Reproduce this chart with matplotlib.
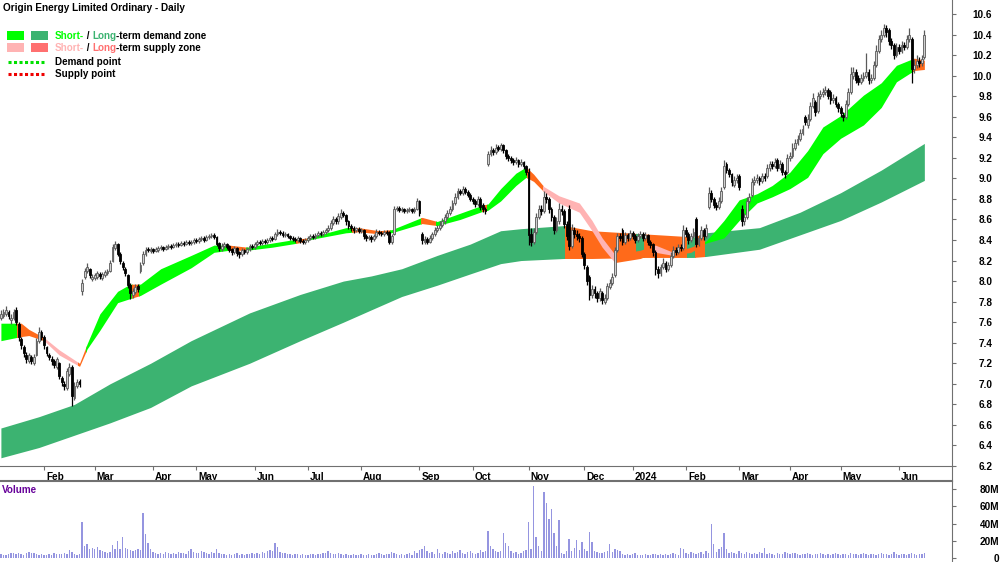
import numpy as np
import matplotlib.pyplot as plt
from matplotlib.patches import Rectangle
from matplotlib.transforms import ScaledTranslation

plt.rcParams['font.family'] = ['Liberation Sans', 'DejaVu Sans']

# daily candles, Origin Energy, 6 Jan 2023 - 18 Jun 2024 (trading days)
opens = [7.64, 7.66, 7.68, 7.70, 7.62, 7.64, 7.72, 7.58, 7.44, 7.36,
         7.28, 7.22, 7.26, 7.20, 7.28, 7.42, 7.50, 7.46, 7.36, 7.28,
         7.24, 7.22, 7.16, 7.20, 7.06, 7.00, 6.96, 7.10, 7.16, 6.86,
         6.98, 7.03, 7.90, 8.04, 8.10, 8.12, 8.02, 8.03, 8.04, 8.07,
         8.03, 8.06, 8.08, 8.10, 8.20, 8.32, 8.36, 8.26, 8.18, 8.12,
         8.06, 7.96, 7.86, 7.89, 7.95, 8.10, 8.18, 8.26, 8.31, 8.29,
         8.31, 8.29, 8.30, 8.32, 8.33, 8.31, 8.33, 8.34, 8.33, 8.35,
         8.36, 8.35, 8.37, 8.36, 8.38, 8.37, 8.38, 8.40, 8.39, 8.41,
         8.42, 8.40, 8.43, 8.44, 8.45, 8.43, 8.37, 8.31, 8.34, 8.36,
         8.34, 8.31, 8.28, 8.32, 8.28, 8.26, 8.30, 8.28, 8.31, 8.34,
         8.33, 8.36, 8.38, 8.37, 8.39, 8.38, 8.40, 8.42, 8.41, 8.46,
         8.48, 8.47, 8.45, 8.46, 8.44, 8.42, 8.41, 8.40, 8.42, 8.39,
         8.38, 8.40, 8.42, 8.44, 8.43, 8.45, 8.47, 8.46, 8.48, 8.50,
         8.52, 8.57, 8.60, 8.58, 8.62, 8.66, 8.64, 8.58, 8.54, 8.52,
         8.50, 8.51, 8.49, 8.50, 8.44, 8.42, 8.43, 8.41, 8.44, 8.48,
         8.47, 8.46, 8.48, 8.48, 8.38, 8.46, 8.70, 8.71, 8.69, 8.70,
         8.68, 8.69, 8.70, 8.68, 8.70, 8.78, 8.46, 8.38, 8.41, 8.38,
         8.42, 8.46, 8.50, 8.52, 8.55, 8.58, 8.62, 8.66, 8.70, 8.76,
         8.82, 8.88, 8.86, 8.90, 8.87, 8.84, 8.80, 8.78, 8.75, 8.80,
         8.74, 8.70, 9.14, 9.24, 9.28, 9.26, 9.30, 9.29, 9.32, 9.28,
         9.22, 9.20, 9.18, 9.16, 9.18, 9.14, 9.16, 9.12, 9.06, 8.46,
         8.38, 8.48, 8.62, 8.70, 8.68, 8.82, 8.80, 8.70, 8.62, 8.50,
         8.58, 8.70, 8.68, 8.56, 8.70, 8.34, 8.50, 8.46, 8.44, 8.42,
         8.26, 8.14, 8.04, 7.86, 7.92, 7.88, 7.84, 7.88, 7.80, 7.84,
         7.94, 7.98, 8.06, 8.30, 8.44, 8.50, 8.38, 8.45, 8.42, 8.47,
         8.44, 8.40, 8.44, 8.46, 8.42, 8.45, 8.38, 8.36, 8.28, 8.12,
         8.08, 8.14, 8.18, 8.12, 8.16, 8.24, 8.30, 8.28, 8.33, 8.32,
         8.50, 8.46, 8.40, 8.44, 8.60, 8.36, 8.42, 8.50, 8.44, 8.72,
         8.86, 8.80, 8.74, 8.72, 8.78, 8.92, 9.14, 9.08, 9.04, 8.94,
         8.98, 9.02, 8.70, 8.58, 8.62, 8.78, 8.84, 8.96, 8.98, 9.00,
         8.97, 9.02, 9.02, 9.10, 9.14, 9.12, 9.18, 9.10, 9.14, 9.06,
         9.06, 9.20, 9.22, 9.30, 9.34, 9.38, 9.44, 9.60, 9.52, 9.58,
         9.70, 9.74, 9.66, 9.80, 9.82, 9.84, 9.86, 9.84, 9.76, 9.78,
         9.72, 9.68, 9.62, 9.60, 9.72, 9.84, 10.00, 10.04, 9.98, 9.94,
         9.98, 10.00, 10.04, 9.96, 9.98, 10.10, 10.24, 10.36, 10.40, 10.46,
         10.44, 10.34, 10.30, 10.20, 10.28, 10.24, 10.30, 10.28, 10.36, 10.36,
         10.06, 10.10, 10.14, 10.12, 10.18]
highs = [7.72, 7.73, 7.76, 7.72, 7.68, 7.73, 7.75, 7.60, 7.46, 7.38,
         7.31, 7.30, 7.28, 7.29, 7.45, 7.55, 7.52, 7.48, 7.37, 7.30,
         7.27, 7.24, 7.26, 7.21, 7.08, 7.03, 7.15, 7.20, 7.18, 7.02,
         7.05, 7.05, 8.02, 8.13, 8.18, 8.13, 8.07, 8.08, 8.10, 8.09,
         8.09, 8.11, 8.12, 8.21, 8.36, 8.39, 8.37, 8.28, 8.20, 8.14,
         8.07, 7.98, 7.93, 7.97, 7.97, 8.19, 8.29, 8.33, 8.33, 8.33,
         8.32, 8.33, 8.34, 8.35, 8.34, 8.35, 8.36, 8.36, 8.37, 8.38,
         8.38, 8.39, 8.39, 8.40, 8.40, 8.40, 8.42, 8.42, 8.43, 8.44,
         8.44, 8.45, 8.46, 8.47, 8.47, 8.44, 8.38, 8.37, 8.38, 8.37,
         8.35, 8.32, 8.34, 8.33, 8.29, 8.32, 8.31, 8.33, 8.36, 8.36,
         8.38, 8.40, 8.40, 8.41, 8.41, 8.42, 8.44, 8.44, 8.48, 8.51,
         8.50, 8.49, 8.48, 8.47, 8.45, 8.44, 8.43, 8.44, 8.43, 8.41,
         8.42, 8.44, 8.46, 8.46, 8.47, 8.49, 8.49, 8.50, 8.52, 8.55,
         8.59, 8.63, 8.62, 8.66, 8.70, 8.68, 8.65, 8.59, 8.56, 8.54,
         8.53, 8.53, 8.52, 8.51, 8.46, 8.45, 8.45, 8.46, 8.51, 8.50,
         8.49, 8.50, 8.50, 8.49, 8.46, 8.73, 8.73, 8.73, 8.72, 8.71,
         8.71, 8.72, 8.71, 8.72, 8.81, 8.79, 8.48, 8.44, 8.43, 8.45,
         8.48, 8.53, 8.55, 8.58, 8.61, 8.65, 8.69, 8.73, 8.79, 8.86,
         8.91, 8.90, 8.93, 8.92, 8.89, 8.86, 8.82, 8.80, 8.83, 8.82,
         8.76, 8.72, 9.27, 9.31, 9.30, 9.33, 9.32, 9.34, 9.33, 9.29,
         9.24, 9.22, 9.20, 9.21, 9.19, 9.19, 9.17, 9.13, 9.10, 8.52,
         8.52, 8.66, 8.74, 8.74, 8.88, 8.86, 8.82, 8.72, 8.64, 8.62,
         8.76, 8.74, 8.70, 8.58, 8.74, 8.56, 8.53, 8.50, 8.47, 8.44,
         8.28, 8.16, 8.06, 7.96, 7.95, 7.90, 7.93, 7.90, 7.87, 7.98,
         8.02, 8.08, 8.33, 8.47, 8.47, 8.52, 8.48, 8.47, 8.50, 8.49,
         8.46, 8.47, 8.49, 8.48, 8.48, 8.46, 8.40, 8.37, 8.30, 8.15,
         8.17, 8.22, 8.20, 8.19, 8.28, 8.34, 8.33, 8.36, 8.36, 8.55,
         8.53, 8.48, 8.47, 8.52, 8.62, 8.45, 8.54, 8.52, 8.56, 8.92,
         8.89, 8.82, 8.77, 8.82, 8.92, 9.18, 9.16, 9.10, 9.05, 9.02,
         9.04, 9.04, 8.74, 8.66, 8.82, 8.86, 9.00, 9.02, 9.04, 9.02,
         9.05, 9.05, 9.14, 9.17, 9.17, 9.20, 9.20, 9.18, 9.16, 9.08,
         9.24, 9.26, 9.34, 9.38, 9.42, 9.48, 9.52, 9.62, 9.63, 9.74,
         9.83, 9.76, 9.84, 9.86, 9.88, 9.90, 9.88, 9.86, 9.82, 9.80,
         9.74, 9.70, 9.65, 9.76, 9.88, 10.08, 10.08, 10.06, 10.01, 10.02,
         10.04, 10.22, 10.06, 10.02, 10.14, 10.30, 10.40, 10.44, 10.50, 10.49,
         10.46, 10.37, 10.32, 10.32, 10.31, 10.34, 10.33, 10.40, 10.46, 10.38,
         10.16, 10.20, 10.18, 10.20, 10.44]
lows = [7.62, 7.64, 7.66, 7.63, 7.58, 7.62, 7.57, 7.42, 7.34, 7.26,
        7.20, 7.20, 7.19, 7.18, 7.27, 7.40, 7.43, 7.34, 7.27, 7.23,
        7.18, 7.15, 7.14, 7.05, 6.98, 6.94, 6.94, 7.08, 6.78, 6.84,
        6.96, 6.97, 7.86, 8.02, 8.08, 8.03, 8.00, 8.01, 8.02, 8.02,
        8.01, 8.04, 8.06, 8.09, 8.19, 8.30, 8.24, 8.17, 8.11, 8.05,
        7.93, 7.83, 7.84, 7.87, 7.89, 8.08, 8.16, 8.24, 8.28, 8.27,
        8.27, 8.28, 8.28, 8.30, 8.29, 8.30, 8.31, 8.31, 8.32, 8.33,
        8.33, 8.34, 8.34, 8.35, 8.35, 8.35, 8.36, 8.37, 8.37, 8.39,
        8.38, 8.39, 8.41, 8.42, 8.41, 8.34, 8.29, 8.29, 8.32, 8.31,
        8.28, 8.25, 8.26, 8.24, 8.22, 8.24, 8.26, 8.26, 8.29, 8.31,
        8.31, 8.34, 8.35, 8.35, 8.36, 8.36, 8.38, 8.39, 8.40, 8.44,
        8.45, 8.43, 8.43, 8.42, 8.40, 8.39, 8.38, 8.38, 8.37, 8.36,
        8.36, 8.38, 8.40, 8.41, 8.41, 8.43, 8.44, 8.44, 8.46, 8.48,
        8.50, 8.55, 8.56, 8.56, 8.60, 8.62, 8.55, 8.51, 8.49, 8.47,
        8.48, 8.47, 8.47, 8.41, 8.39, 8.40, 8.38, 8.39, 8.42, 8.45,
        8.44, 8.44, 8.45, 8.36, 8.36, 8.45, 8.68, 8.67, 8.67, 8.66,
        8.66, 8.67, 8.66, 8.66, 8.69, 8.63, 8.36, 8.36, 8.36, 8.37,
        8.40, 8.44, 8.48, 8.50, 8.53, 8.56, 8.60, 8.64, 8.68, 8.74,
        8.80, 8.84, 8.84, 8.85, 8.82, 8.78, 8.75, 8.72, 8.73, 8.69,
        8.67, 8.65, 9.12, 9.22, 9.23, 9.24, 9.27, 9.27, 9.25, 9.19,
        9.17, 9.15, 9.13, 9.14, 9.11, 9.12, 9.09, 9.03, 8.35, 8.34,
        8.36, 8.46, 8.60, 8.64, 8.66, 8.76, 8.66, 8.58, 8.46, 8.48,
        8.56, 8.64, 8.52, 8.40, 8.30, 8.32, 8.42, 8.40, 8.38, 8.23,
        8.12, 7.96, 7.82, 7.84, 7.84, 7.80, 7.81, 7.78, 7.78, 7.82,
        7.92, 7.96, 8.04, 8.28, 8.39, 8.35, 8.36, 8.39, 8.40, 8.41,
        8.37, 8.38, 8.42, 8.39, 8.40, 8.35, 8.32, 8.24, 8.06, 8.03,
        8.05, 8.12, 8.09, 8.10, 8.14, 8.22, 8.25, 8.26, 8.29, 8.30,
        8.43, 8.36, 8.38, 8.42, 8.33, 8.34, 8.40, 8.40, 8.42, 8.70,
        8.77, 8.71, 8.69, 8.70, 8.76, 8.90, 9.05, 9.01, 8.93, 8.92,
        8.95, 8.89, 8.54, 8.55, 8.60, 8.76, 8.82, 8.94, 8.95, 8.94,
        8.95, 8.97, 9.00, 9.07, 9.09, 9.10, 9.07, 9.08, 9.03, 9.00,
        9.04, 9.17, 9.20, 9.28, 9.32, 9.36, 9.42, 9.52, 9.49, 9.56,
        9.68, 9.61, 9.64, 9.77, 9.79, 9.81, 9.77, 9.72, 9.73, 9.69,
        9.65, 9.60, 9.56, 9.58, 9.70, 9.82, 9.97, 9.93, 9.91, 9.92,
        9.95, 9.98, 9.92, 9.93, 9.96, 10.08, 10.22, 10.33, 10.38, 10.38,
        10.30, 10.26, 10.16, 10.18, 10.21, 10.22, 10.25, 10.26, 10.33, 9.93,
        10.03, 10.07, 10.08, 10.09, 10.16]
closes = [7.68, 7.70, 7.72, 7.66, 7.64, 7.70, 7.60, 7.46, 7.38, 7.30,
          7.24, 7.28, 7.22, 7.26, 7.42, 7.50, 7.46, 7.38, 7.30, 7.26,
          7.22, 7.18, 7.24, 7.08, 7.02, 6.98, 7.12, 7.16, 6.88, 6.98,
          7.02, 7.00, 7.98, 8.10, 8.14, 8.06, 8.04, 8.06, 8.08, 8.05,
          8.07, 8.09, 8.10, 8.18, 8.33, 8.36, 8.26, 8.20, 8.14, 8.08,
          7.96, 7.88, 7.90, 7.94, 7.92, 8.16, 8.26, 8.30, 8.30, 8.31,
          8.29, 8.31, 8.32, 8.33, 8.31, 8.33, 8.34, 8.33, 8.35, 8.36,
          8.35, 8.37, 8.36, 8.38, 8.37, 8.38, 8.40, 8.39, 8.41, 8.42,
          8.40, 8.43, 8.44, 8.45, 8.43, 8.36, 8.32, 8.34, 8.36, 8.33,
          8.30, 8.28, 8.32, 8.27, 8.26, 8.30, 8.28, 8.31, 8.34, 8.33,
          8.36, 8.38, 8.37, 8.39, 8.38, 8.40, 8.42, 8.41, 8.46, 8.48,
          8.47, 8.45, 8.46, 8.44, 8.42, 8.41, 8.40, 8.42, 8.39, 8.38,
          8.40, 8.42, 8.44, 8.43, 8.45, 8.47, 8.46, 8.48, 8.50, 8.52,
          8.57, 8.60, 8.58, 8.63, 8.66, 8.64, 8.58, 8.54, 8.52, 8.50,
          8.51, 8.49, 8.50, 8.44, 8.42, 8.43, 8.41, 8.44, 8.48, 8.47,
          8.46, 8.48, 8.47, 8.38, 8.44, 8.70, 8.71, 8.69, 8.70, 8.68,
          8.69, 8.70, 8.68, 8.70, 8.78, 8.66, 8.40, 8.41, 8.38, 8.42,
          8.46, 8.50, 8.52, 8.55, 8.58, 8.62, 8.66, 8.70, 8.76, 8.82,
          8.88, 8.86, 8.90, 8.87, 8.84, 8.80, 8.78, 8.75, 8.80, 8.72,
          8.70, 8.68, 9.24, 9.28, 9.26, 9.30, 9.29, 9.32, 9.28, 9.22,
          9.20, 9.18, 9.16, 9.18, 9.14, 9.16, 9.12, 9.06, 8.45, 8.38,
          8.48, 8.62, 8.70, 8.68, 8.82, 8.80, 8.70, 8.62, 8.50, 8.58,
          8.70, 8.68, 8.56, 8.44, 8.34, 8.50, 8.46, 8.44, 8.42, 8.26,
          8.16, 8.00, 7.86, 7.92, 7.88, 7.84, 7.90, 7.82, 7.84, 7.95,
          7.98, 8.04, 8.30, 8.44, 8.42, 8.38, 8.45, 8.42, 8.47, 8.44,
          8.40, 8.44, 8.46, 8.42, 8.45, 8.38, 8.35, 8.28, 8.12, 8.08,
          8.14, 8.18, 8.12, 8.16, 8.24, 8.30, 8.28, 8.33, 8.32, 8.50,
          8.46, 8.40, 8.44, 8.48, 8.36, 8.42, 8.50, 8.44, 8.52, 8.86,
          8.80, 8.74, 8.72, 8.78, 8.88, 9.12, 9.08, 9.04, 8.96, 8.98,
          9.00, 8.92, 8.58, 8.62, 8.78, 8.82, 8.96, 8.98, 9.00, 8.97,
          9.02, 9.00, 9.10, 9.14, 9.12, 9.16, 9.10, 9.14, 9.06, 9.04,
          9.20, 9.22, 9.30, 9.34, 9.38, 9.44, 9.48, 9.55, 9.58, 9.70,
          9.78, 9.65, 9.80, 9.82, 9.84, 9.86, 9.80, 9.76, 9.78, 9.72,
          9.68, 9.64, 9.60, 9.72, 9.84, 10.02, 10.04, 9.96, 9.94, 9.98,
          10.00, 10.04, 9.96, 9.98, 10.10, 10.24, 10.36, 10.40, 10.46, 10.42,
          10.34, 10.30, 10.20, 10.28, 10.24, 10.30, 10.28, 10.36, 10.40, 10.06,
          10.10, 10.14, 10.12, 10.16, 10.40]
volumes = [5, 4, 4, 5, 6, 6, 5, 6, 5, 4, 6, 7, 6, 6, 5, 4, 5, 4, 4, 5,
           4, 6, 5, 5, 5, 6, 5, 9, 7, 5, 4, 5,
           42, 14, 16, 11, 12, 10, 13, 9, 8, 7, 6, 7, 15, 10, 20, 11, 24, 12,
           10, 9, 8, 9, 10, 9, 52, 28, 17, 10,
           7, 6, 5, 6, 5, 7, 6, 5, 6, 5, 7, 6, 6, 5, 8, 10, 7, 6, 6, 8,
           7, 6, 5, 7, 6, 10, 6, 5, 5, 4, 5, 4, 5, 6, 4, 5, 4, 5, 5, 6,
           5, 6, 5, 7, 6, 8, 9, 8, 18, 13,
           7, 6, 6, 5, 5, 4, 5, 5, 4, 5, 4, 4, 5, 5, 4, 5, 5, 6, 6, 8,
           6, 5, 5, 6, 5, 4, 5, 4, 4, 5, 4, 4, 5, 4, 4, 5, 4, 4, 5, 6,
           5, 4, 5, 5, 7, 6, 5, 4, 5, 4,
           5, 6, 4, 8, 6, 9, 10, 14, 8, 6, 7, 5, 11, 6, 5, 7, 6, 5, 8, 6,
           7, 9, 6, 5, 7, 8, 6, 5, 6, 9, 7, 8,
           31, 14, 10, 8, 7, 8, 29, 17, 14, 8, 6, 7, 5, 6, 8, 9,
           42, 10, 83, 24, 14, 8, 76, 64, 45, 57, 29, 14, 44, 6, 5, 8, 22, 8, 12, 21,
           9, 19, 10, 8, 30, 19, 8, 7, 6, 6, 7, 8, 16, 7, 10, 9, 8,
           5, 4, 5, 4, 5, 6, 4, 3, 4, 5, 4, 4, 5, 5, 4, 5, 4, 5, 4, 5,
           6, 5, 4, 12, 10, 6, 5, 7, 6, 5, 6, 7, 5, 8,
           6, 40, 16, 7, 10, 13, 29, 11, 6, 7, 6, 5, 8, 6, 5, 7, 6, 5, 6, 5,
           7, 6, 12,
           5, 6, 5, 4, 6, 5, 5, 7, 6, 5, 6, 6, 5, 4, 5, 5, 6, 5, 4, 5,
           5, 6, 5, 4, 5, 4, 5, 6, 5, 4, 5, 5, 4, 6, 5, 5, 4, 5, 6, 5,
           4, 5, 5, 4, 5, 6, 5, 5, 4, 5, 7, 5, 4, 5, 5, 4, 5, 6, 5, 4,
           5, 5, 6]

# month ticks (trading-day index of first session of the month)
month_pos = [17, 37, 60, 77, 100, 121, 142, 165, 186, 208, 230, 249, 270,
             291, 311, 331, 354]
month_lbl = ['Feb', 'Mar', 'Apr', 'May', 'Jun', 'Jul', 'Aug', 'Sep', 'Oct',
             'Nov', 'Dec', '2024', 'Feb', 'Mar', 'Apr', 'May', 'Jun']

# short-term zone edges
st_idx = [0, 8, 11, 17, 23, 31, 34, 39, 46, 51, 55, 63, 75, 84, 90, 97, 107,
          117, 121, 136, 141, 149, 154, 166, 172, 181, 190, 192, 197, 203,
          207, 210, 214, 220, 228, 233, 237, 242, 252, 258, 265, 272, 278,
          285, 291, 298, 304, 311, 318, 324, 331, 340, 347, 353, 360, 364]
st_up = [7.59, 7.59, 7.53, 7.45, 7.33, 7.20, 7.39, 7.68, 7.90, 7.97, 7.97,
         8.12, 8.25, 8.35, 8.35, 8.33, 8.37, 8.41, 8.42, 8.52, 8.52, 8.49,
         8.50, 8.62, 8.58, 8.66, 8.74, 8.75, 8.90, 9.05, 9.11, 9.04, 8.92,
         8.83, 8.76, 8.59, 8.42, 8.26, 8.30, 8.35, 8.28, 8.33, 8.39, 8.59,
         8.79, 8.85, 8.93, 9.06, 9.27, 9.50, 9.61, 9.81, 9.93, 10.10, 10.17,
         10.15]
st_lo = [7.42, 7.46, 7.47, 7.42, 7.28, 7.17, 7.34, 7.52, 7.79, 7.83, 7.86,
         7.97, 8.13, 8.28, 8.30, 8.30, 8.33, 8.37, 8.40, 8.47, 8.48, 8.46,
         8.47, 8.56, 8.54, 8.60, 8.68, 8.69, 8.78, 8.93, 9.01, 8.97, 8.87,
         8.76, 8.67, 8.49, 8.33, 8.18, 8.22, 8.28, 8.25, 8.28, 8.37, 8.42,
         8.59, 8.76, 8.82, 8.90, 9.01, 9.24, 9.39, 9.52, 9.69, 9.94, 10.05,
         10.06]
# (start, end, state) d = demand, s = supply, n = neither
st_state = [(0, 7, 'd'), (7, 17, 'n'), (17, 31, 's'), (31, 34, 'n'),
            (34, 52, 'd'), (52, 55, 'n'), (55, 90, 'd'), (90, 97, 'n'),
            (97, 117, 'd'), (117, 121, 'n'), (121, 139, 'd'), (139, 154, 'n'),
            (154, 166, 'd'), (166, 172, 'n'), (172, 190, 'd'), (190, 192, 'n'),
            (192, 208, 'd'), (208, 214, 'n'), (214, 242, 's'), (242, 258, 'n'),
            (258, 265, 's'), (265, 278, 'n'), (278, 360, 'd'), (360, 365, 'n')]

# long-term zone edges
lt_idx = [0, 15, 29, 43, 59, 75, 98, 118, 135, 146, 158, 172, 185, 197, 205,
          222, 233, 253, 273, 278, 299, 315, 331, 347, 364]
lt_up = [6.57, 6.68, 6.80, 7.00, 7.20, 7.42, 7.69, 7.87, 8.00, 8.05, 8.12,
         8.25, 8.36, 8.49, 8.51, 8.54, 8.49, 8.46, 8.43, 8.47, 8.52, 8.67,
         8.86, 9.08, 9.34]
lt_lo = [6.28, 6.38, 6.50, 6.62, 6.77, 6.98, 7.20, 7.42, 7.60, 7.72, 7.85,
         7.96, 8.07, 8.17, 8.20, 8.22, 8.22, 8.23, 8.23, 8.24, 8.31, 8.45,
         8.59, 8.77, 8.98]
lt_state = [(0, 223, 'd'), (223, 251, 'n'), (251, 254, 'd'), (254, 271, 'n'),
            (271, 274, 'd'), (274, 278, 'n'), (278, 365, 'd')]

st_col = {'d': '#00ff00', 's': '#ffb3b3', 'n': '#ff6a1a'}
lt_col = {'d': '#3cb371', 's': '#ff7070', 'n': '#ff6a1a'}

fig = plt.figure(figsize=(10, 5.62), dpi=100)
ax = fig.add_axes([0, 96 / 562, 0.952, 466 / 562])
axv = fig.add_axes([0, 0, 0.952, 81 / 562])

o, h, l, c = (np.array(v) for v in (opens, highs, lows, closes))
x = np.arange(len(c))


def zone(xs, up, lo, states, cols, z):
    for a, b, s in states:
        poly = ax.fill_between(xs, up, lo, color=cols[s], lw=0, zorder=z)
        poly.set_clip_path(Rectangle((a - 0.5, 0), b - a, 20, transform=ax.transData))


zone(lt_idx, lt_up, lt_lo, lt_state, lt_col, 1)
zone(st_idx, st_up, st_lo, st_state, st_col, 2)

rise = c >= o
ax.vlines(x[rise], l[rise], h[rise], color='#5a5a5a', lw=0.9, zorder=3)
ax.vlines(x[~rise], l[~rise], h[~rise], color='black', lw=0.9, zorder=3)
body_lo = np.minimum(o, c)
body_h = np.maximum(np.abs(c - o), 0.012)
ax.bar(x[rise], body_h[rise], 0.72, bottom=body_lo[rise], color='#cfcfcf',
       edgecolor='#5a5a5a', lw=0.6, zorder=4)
ax.bar(x[~rise], body_h[~rise], 0.72, bottom=body_lo[~rise], color='black',
       edgecolor='black', lw=0.6, zorder=4)

xlim = (-0.355, 374.9)
ax.set_xlim(*xlim)
ax.set_ylim(6.2, 10.736)
for s in ('top', 'left'):
    ax.spines[s].set_visible(False)
for s in ('bottom', 'right'):
    ax.spines[s].set_color('#707070')
ax.yaxis.tick_right()
yt = np.round(np.arange(6.2, 10.61, 0.2), 1)
ax.set_yticks(yt)
ax.set_yticklabels([f'{v:.1f}' for v in yt], fontsize=7.2, fontweight='bold', ha='right')
ax.tick_params(axis='y', length=3, pad=26, color='#707070')
ax.set_xticks(month_pos)
ax.set_xticklabels(month_lbl, fontsize=7.2, fontweight='bold', ha='left')
ax.tick_params(axis='x', length=3, pad=1, color='#707070')
shift = ScaledTranslation(1.5 / 72, 0, fig.dpi_scale_trans)
for lab in ax.get_xticklabels():
    lab.set_transform(lab.get_transform() + shift)

axv.bar(x, volumes, 0.55, color='#9595e0')
axv.set_xlim(*xlim)
axv.set_ylim(-4.6, 89.3)
for s in ('bottom', 'left'):
    axv.spines[s].set_visible(False)
for s in ('top', 'right'):
    axv.spines[s].set_color('#707070')
axv.spines['top'].set_linewidth(1.5)
axv.set_xticks([])
axv.yaxis.tick_right()
axv.set_yticks([0, 20, 40, 60, 80])
axv.set_yticklabels(['0', '20M', '40M', '60M', '80M'], fontsize=7.2, fontweight='bold', ha='right')
axv.tick_params(axis='y', length=3, pad=31, color='#707070')

# overlay in pixel coordinates for title, legend and the date strip edge
ov = fig.add_axes([0, 0, 1, 1])
ov.set_xlim(0, 1000)
ov.set_ylim(562, 0)
ov.axis('off')
ov.plot([952, 952], [466, 481], color='#707070', lw=0.8)

FS = 7.1
ov.text(3, 8, 'Origin Energy Limited Ordinary - Daily', fontsize=7.2,
        fontweight='bold', va='center')
ov.add_patch(Rectangle((7, 31), 17, 9, color=st_col['d'], lw=0))
ov.add_patch(Rectangle((31, 31), 17, 9, color=lt_col['d'], lw=0))
ov.add_patch(Rectangle((7, 43), 17, 9, color=st_col['s'], lw=0))
ov.add_patch(Rectangle((31, 43), 17, 9, color=lt_col['s'], lw=0))
ov.plot([8, 44], [62, 62], color='#00e000', lw=2.2, ls=(0, (1, 0.8)))
ov.plot([8, 44], [74, 74], color='#ee0000', lw=2.2, ls=(0, (1, 0.8)))


def rainbow(xp, yp, parts):
    t = ov.text(xp, yp, parts[0][0], color=parts[0][1], fontsize=FS,
                fontweight='bold', va='center')
    for s, col in parts[1:]:
        t = ov.annotate(s, xy=(1, 0), xycoords=t, va='bottom', color=col,
                        fontsize=FS, fontweight='bold')


rainbow(55, 36, [('Short-', st_col['d']), (' / ', 'black'), ('Long', lt_col['d']),
                 ('-term demand zone', 'black')])
rainbow(55, 48, [('Short-', st_col['s']), (' / ', 'black'), ('Long', lt_col['s']),
                 ('-term supply zone', 'black')])
ov.text(55, 62, 'Demand point', fontsize=FS, fontweight='bold', va='center')
ov.text(55, 74, 'Supply point', fontsize=FS, fontweight='bold', va='center')
ov.text(2, 490, 'Volume', fontsize=FS, fontweight='bold', color='#660099', va='center')

fig.savefig('out.png', dpi=100)
